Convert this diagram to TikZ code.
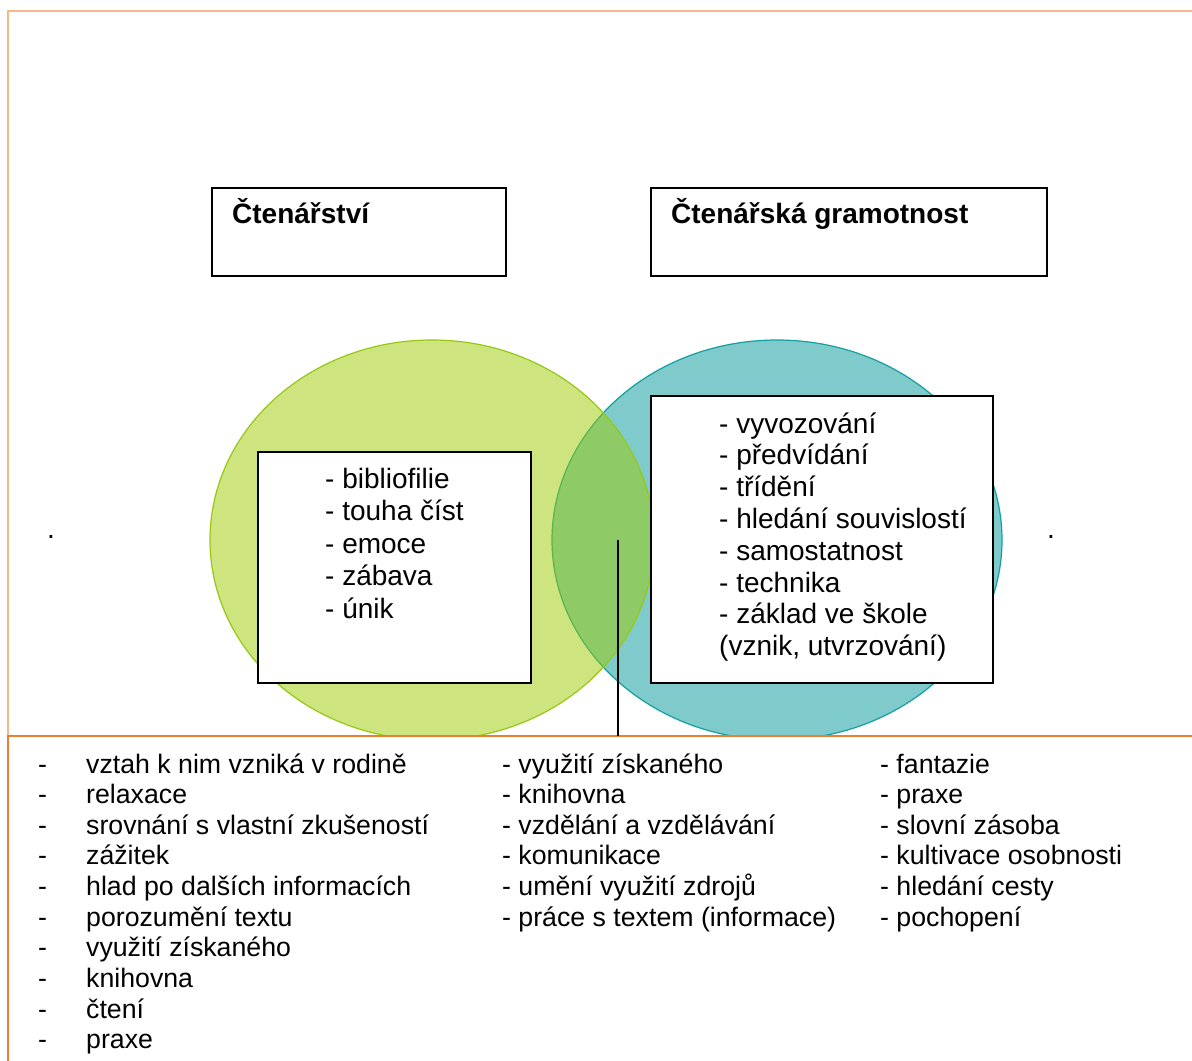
\documentclass[tikz,border=0pt]{standalone}
\usepackage{fontspec}
\setmainfont{Liberation Sans}
\definecolor{frameLight}{RGB}{247,182,138}
\definecolor{frameDark}{RGB}{237,125,49}
\definecolor{vgreen}{RGB}{157,202,0}
\definecolor{vteal}{RGB}{0,151,153}
\definecolor{vgreenline}{RGB}{150,200,20}
\definecolor{vtealline}{RGB}{20,160,160}
\tikzset{
  hbox/.style={draw=black, line width=1.5bp, fill=white, inner sep=0pt, anchor=north west},
  uptxt/.style={font=\fontsize{28bp}{32bp}\selectfont, inner sep=0pt, anchor=base west},
  titletxt/.style={font=\fontsize{28bp}{32bp}\selectfont\bfseries, inner sep=0pt, anchor=base west},
  lowtxt/.style={font=\fontsize{26.7bp}{30.7bp}\selectfont, inner sep=0pt, anchor=base west},
}
\begin{document}
\begin{tikzpicture}[x=1bp,y=-1bp]
\useasboundingbox (0,0) rectangle (1192,1061);
\fill[white] (0,0) rectangle (1192,1061);
% Venn circles
\fill[vteal, fill opacity=0.5] (777,540) ellipse [x radius=225, y radius=200];
\draw[vtealline, line width=1.2bp] (777,540) ellipse [x radius=225, y radius=200];
\fill[vgreen, fill opacity=0.5] (432,540) ellipse [x radius=222, y radius=200];
\draw[vgreenline, line width=1.2bp] (432,540) ellipse [x radius=222, y radius=200];
% title boxes
\node[hbox, minimum width=294bp, minimum height=88bp] (b1) at (211,187) {};
\node[hbox, minimum width=396bp, minimum height=88bp] (b2) at (650,187) {};
\node[titletxt] (t1) at (232,223) {Čtenářství};
\node[titletxt] (t2) at (671,223) {Čtenářská gramotnost};
% inner boxes
\node[hbox, minimum width=273bp, minimum height=231bp] (ib1) at (257,451) {};
\node[hbox, minimum width=342bp, minimum height=287bp] (ib2) at (650,395) {};
\foreach \s [count=\i from 0] in {{- bibliofilie},{- touha číst},{- emoce},{- zábava},{- únik}}
  \node[uptxt] (L\i) at (325,{488+32.5*\i}) {\s};
\foreach \s [count=\i from 0] in {{- vyvozování},{- předvídání},{- třídění},{- hledání souvislostí},{- samostatnost},{- technika},{- základ ve škole},{(vznik, utvrzování)}}
  \node[uptxt] (R\i) at (719,{433+31.8*\i}) {\s};
% dots
\node[uptxt] (d1) at (47,538) {.};
\node[uptxt] (d2) at (1047,538) {.};
% bottom area
\fill[white] (8,736) rectangle (1192,1061);
\draw[frameLight, line width=2bp] (8,736) -- (8,11) -- (1192,11);
\draw[frameDark, line width=2.5bp] (1192,736) -- (8,736) -- (8,1061);
\coordinate (vtop) at (618,540);
\coordinate (vbot) at (618,736);
\draw[black, line width=2bp] (vtop) -- (vbot);
% bottom lists
\foreach \s [count=\i from 0] in {{vztah k nim vzniká v rodině},{relaxace},{srovnání s vlastní zkušeností},{zážitek},{hlad po dalších informacích},{porozumění textu},{využití získaného},{knihovna},{čtení},{praxe}}{
  \node[lowtxt] (cd\i) at (38,{773+30.65*\i}) {-};
  \node[lowtxt] (c\i) at (86,{773+30.65*\i}) {\s};
}
\foreach \s [count=\i from 0] in {{- využití získaného},{- knihovna},{- vzdělání a vzdělávání},{- komunikace},{- umění využití zdrojů},{- práce s textem (informace)}}
  \node[lowtxt] (m\i) at (502,{773+30.65*\i}) {\s};
\foreach \s [count=\i from 0] in {{- fantazie},{- praxe},{- slovní zásoba},{- kultivace osobnosti},{- hledání cesty},{- pochopení}}
  \node[lowtxt] (r\i) at (880,{773+30.65*\i}) {\s};
\end{tikzpicture}
\end{document}
